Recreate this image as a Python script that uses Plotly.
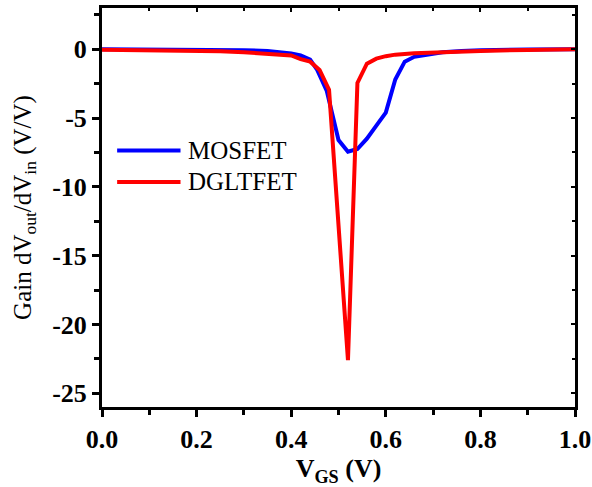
import plotly.graph_objects as go

# Gate voltage sweep points and small-signal gain for each device
vgs_mosfet = [0.00, 0.10, 0.20, 0.25, 0.30, 0.35, 0.38, 0.40, 0.42, 0.44, 0.455,
              0.475, 0.50, 0.52, 0.54, 0.56, 0.58, 0.60, 0.62, 0.64, 0.66, 0.69,
              0.72, 0.76, 0.80, 0.90, 1.00]
gain_mosfet = [0.00, -0.01, -0.02, -0.04, -0.07, -0.12, -0.20, -0.30, -0.45, -0.75, -1.50,
               -3.00, -6.60, -7.45, -7.25, -6.50, -5.55, -4.60, -2.20, -0.90, -0.55, -0.35,
               -0.22, -0.12, -0.07, -0.02, 0.00]

vgs_dgltfet = [0.00, 0.10, 0.20, 0.25, 0.30, 0.35, 0.38, 0.40, 0.42, 0.44, 0.46,
               0.48, 0.52, 0.54, 0.56, 0.58, 0.60, 0.62, 0.66, 0.72, 0.80, 0.90, 1.00]
gain_dgltfet = [-0.03, -0.05, -0.10, -0.15, -0.22, -0.32, -0.40, -0.45, -0.72, -0.90, -1.50,
                -2.95, -22.6, -2.45, -1.05, -0.68, -0.50, -0.39, -0.29, -0.20, -0.12, -0.05, 0.00]

series_names = ["MOSFET", "DGLTFET"]
series_colors = ["#0000FF", "#FF0000"]

x_ticks = [0.0, 0.2, 0.4, 0.6, 0.8, 1.0]
x_ticklabels = ["0.0", "0.2", "0.4", "0.6", "0.8", "1.0"]
y_ticks = [0, -5, -10, -15, -20, -25]
y_ticklabels = ["0", "-5", "-10", "-15", "-20", "-25"]

FONT = "Liberation Serif"
x_range = [0, 1]
y_range = [-26, 3]

fig = go.Figure()
for xs, ys, name, color in zip([vgs_mosfet, vgs_dgltfet], [gain_mosfet, gain_dgltfet],
                               series_names, series_colors):
    fig.add_trace(go.Scatter(x=xs, y=ys, mode="lines", name=name,
                             line=dict(color=color, width=4), showlegend=False))

# Empty trace so the top/right frame axes get drawn
fig.add_trace(go.Scatter(x=[None], y=[None], xaxis="x2", yaxis="y2",
                         showlegend=False, hoverinfo="skip"))

# Legend drawn as line samples with labels
legend_rows = [0.643, 0.564]
for name, color, yrow in zip(series_names, series_colors, legend_rows):
    fig.add_shape(type="line", xref="paper", yref="paper", x0=0.032, x1=0.166,
                  y0=yrow, y1=yrow, line=dict(color=color, width=4))
    fig.add_annotation(xref="paper", yref="paper", x=0.178, y=yrow, text=name,
                       showarrow=False, xanchor="left", yanchor="middle",
                       font=dict(family=FONT, size=25, color="black"))

axis_common = dict(showline=True, linewidth=3, linecolor="black", showgrid=False,
                   zeroline=False, automargin=False)

fig.update_layout(
    width=592, height=487,
    margin=dict(l=102, r=17, t=8, b=80),
    plot_bgcolor="white", paper_bgcolor="white",
    xaxis=dict(range=x_range, tickvals=x_ticks, ticktext=x_ticklabels,
               ticks="outside", ticklen=7, tickwidth=2.5, tickcolor="black",
               minor=dict(ticks="outside", dtick=0.1, ticklen=5, tickwidth=2.5,
                          tickcolor="black"),
               tickfont=dict(family=FONT, size=26, color="black", weight="bold"),
               title=dict(text="V<sub>GS</sub> (V)", standoff=6,
                          font=dict(family=FONT, size=26, color="black", weight="bold")),
               **axis_common),
    yaxis=dict(range=y_range, tickvals=y_ticks, ticktext=y_ticklabels,
               ticks="outside", ticklen=7, tickwidth=2.5, tickcolor="black",
               minor=dict(ticks="outside", dtick=2.5, tick0=0, ticklen=5, tickwidth=2.5,
                          tickcolor="black"),
               tickfont=dict(family=FONT, size=26, color="black", weight="bold"),
               title=dict(text="Gain dV<sub>out</sub>/dV<sub>in</sub> (V/V)", standoff=14,
                          font=dict(family=FONT, size=25, color="black")),
               **axis_common),
    xaxis2=dict(range=x_range, overlaying="x", side="top", anchor="y2",
                tickvals=x_ticks, showticklabels=False, ticks="inside", ticklen=4,
                tickwidth=2, tickcolor="black",
                minor=dict(ticks="inside", dtick=0.1, ticklen=3, tickwidth=2,
                           tickcolor="black"),
                **axis_common),
    yaxis2=dict(range=y_range, overlaying="y", side="right", anchor="x2",
                tickvals=y_ticks, showticklabels=False, ticks="inside", ticklen=4,
                tickwidth=2, tickcolor="black",
                minor=dict(ticks="inside", dtick=2.5, tick0=0, ticklen=3, tickwidth=2,
                           tickcolor="black"),
                **axis_common),
)

fig.write_html("out.html")
